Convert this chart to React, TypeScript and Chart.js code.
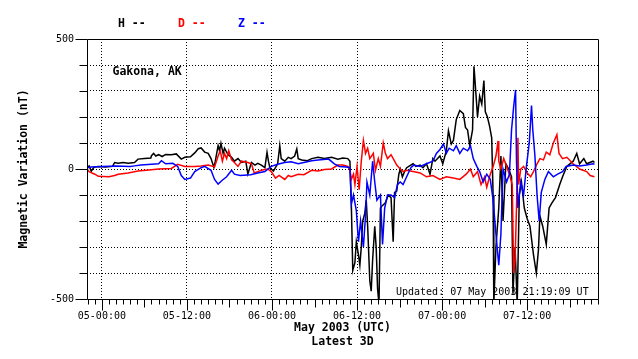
import React, { useEffect, useRef } from 'react';
import { Chart, registerables } from 'chart.js';

Chart.register(...registerables);

// ---------- data ----------
const X_MIN = -2.1; // hours relative to 05 May 00:00 UTC
const X_MAX = 70;
const X_TICK_HOURS = [0, 12, 24, 36, 48, 60];
const X_TICK_LABELS = ['05-00:00', '05-12:00', '06-00:00', '06-12:00', '07-00:00', '07-12:00'];
const Y_MIN = -500;
const Y_MAX = 500;
const Y_STEP = 100;
const Y_TICK_LABELED = [500, 0, -500];

const SERIES_NAMES = ['H', 'D', 'Z'];
const SERIES_COLORS = ['#000000', '#ff0000', '#0000ff'];

const H_DATA: [number, number][] = [
  [-2.1, 5], [-1.8, 12], [-1.5, -8], [-1.2, 4], [-1.0, 8], [-0.5, 10], [0.5, 8], [1.5, 10], [1.8, 25],
  [2.3, 22], [3.0, 25], [3.7, 22], [4.6, 25], [5.1, 38], [6.0, 40], [6.9, 42], [7.0, 51], [7.3, 60],
  [7.6, 50], [8.0, 55], [8.5, 48], [9.0, 56], [9.8, 55], [10.5, 58], [11.2, 38], [11.7, 45], [12.5, 47],
  [13.1, 62], [13.6, 78], [14.0, 81], [14.5, 65], [15.0, 60], [15.4, 40], [15.8, 6], [16.0, 30],
  [16.4, 90], [16.6, 70], [16.8, 99], [17.1, 60], [17.3, 80], [17.8, 55], [18.3, 45], [18.7, 30],
  [19.2, 40], [19.7, 25], [20.3, 30], [20.6, -19], [21.1, 25], [21.6, 15], [22.0, 22], [22.5, 15],
  [23.0, 5], [23.3, 64], [23.5, 30], [23.7, 5], [24.2, -8], [24.8, 20], [25.1, 90], [25.3, 40],
  [25.8, 30], [26.3, 45], [26.7, 40], [27.2, 50], [27.5, 77], [27.7, 40], [28.2, 35], [29.0, 32],
  [29.6, 40], [30.5, 45], [31.4, 40], [32.4, 45], [33.3, 38], [34.0, 42], [34.7, 40], [35.0, 30],
  [35.2, -140], [35.4, -390], [35.7, -360], [35.9, -280], [36.2, -330], [36.4, -370], [36.6, -300],
  [36.8, -200], [37.1, -170], [37.3, -120], [37.5, -220], [37.8, -430], [38.0, -470], [38.2, -350],
  [38.5, -220], [38.7, -300], [38.9, -460], [39.1, -520], [39.3, -150], [39.6, -140], [40.0, -130],
  [40.4, -100], [40.8, -110], [41.1, -280], [41.3, -90], [41.6, -85], [41.9, -20], [42.1, 0],
  [42.4, -30], [42.7, -10], [43.0, 5], [43.9, 20], [44.3, 10], [44.9, 15], [45.3, 5], [45.8, 20],
  [46.3, -20], [46.7, 40], [47.0, 30], [47.7, 50], [48.1, 20], [48.6, 70], [48.9, 147], [49.3, 96],
  [49.6, 110], [50.0, 190], [50.5, 225], [51.0, 213], [51.3, 160], [51.6, 150], [51.9, 90],
  [52.3, 150], [52.5, 395], [52.8, 280], [53.0, 200], [53.3, 280], [53.6, 250], [53.9, 340],
  [54.1, 220], [54.4, 200], [54.7, 165], [55.0, 120], [55.2, -100], [55.3, -520], [55.6, -300],
  [56.0, -150], [56.3, 50], [56.6, -200], [57.0, 20], [57.4, 0], [57.8, -30], [58.0, -480],
  [58.3, -300], [58.6, -520], [58.9, -100], [59.2, -50], [59.6, -150], [60.0, -190], [60.4, -220],
  [60.9, -330], [61.3, -400], [61.6, -310], [61.8, -180], [62.2, -220], [62.7, -290], [63.1, -150],
  [63.5, -130], [64.0, -110], [64.6, -60], [65.0, -30], [65.6, 10], [66.5, 30], [67.0, 60], [67.4, 20],
  [68.0, 40], [68.4, 20], [69.3, 30], [69.5, 25],
];

const D_DATA: [number, number][] = [
  [-2.1, 0], [-1.8, -10], [-1.0, -20], [-0.5, -28], [1.0, -30], [1.8, -25], [2.3, -20], [3.7, -15],
  [5.1, -8], [7.0, -3], [8.0, 0], [9.8, 2], [10.7, 18], [11.7, 10], [13.1, 10], [14.0, 12], [15.0, 15],
  [15.9, 8], [16.4, 50], [16.7, 70], [17.0, 30], [17.3, 60], [17.6, 40], [17.9, 70], [18.3, 35],
  [18.7, 25], [19.2, 10], [19.7, 30], [20.6, 25], [21.1, 20], [21.5, -15], [22.0, -10], [22.5, -5],
  [23.4, 0], [23.9, -10], [24.5, -35], [25.0, -25], [25.8, -40], [26.3, -25], [26.7, -30], [27.7, -20],
  [28.5, -22], [29.6, -5], [30.5, -8], [31.4, -2], [32.4, 0], [33.3, 15], [34.0, 15], [34.7, 10],
  [35.0, -5], [35.2, -40], [35.5, -20], [35.7, -60], [36.0, 10], [36.3, -80], [36.6, 30], [36.9, 110],
  [37.2, 60], [37.5, 80], [37.8, 40], [38.3, 60], [38.6, -5], [39.0, 40], [39.3, 10], [39.7, 100],
  [40.0, 60], [40.3, 40], [40.8, 55], [41.3, 30], [41.6, 15], [42.1, 0], [42.5, -10], [43.0, -5],
  [43.9, -10], [44.9, -15], [45.8, -30], [46.7, -25], [47.7, -40], [48.6, -30], [49.6, -35], [50.5, -40],
  [51.4, -20], [52.0, 0], [52.4, -30], [53.0, -10], [53.5, -60], [54.0, -30], [54.3, -70], [54.8, -20],
  [55.2, 10], [55.6, 50], [55.9, 108], [56.0, 30], [56.3, 0], [56.7, 40], [57.1, 10], [57.5, -20],
  [57.9, -60], [58.1, -400], [58.3, -350], [58.5, -150], [58.7, 120], [58.8, -60], [59.1, 0], [59.5, 10],
  [60.0, -15], [60.5, -30], [60.9, -10], [61.4, 20], [61.8, 40], [62.3, 35], [62.7, 65], [63.2, 55],
  [63.7, 100], [64.2, 132], [64.5, 60], [65.0, 40], [65.6, 45], [66.5, 20], [67.4, 0], [68.4, -10],
  [68.9, -25], [69.5, -30],
];

const Z_DATA: [number, number][] = [
  [-2.1, 5], [-1.5, 8], [0, 10], [2, 12], [4, 10], [4.6, 12], [5.5, 15], [7.0, 18], [8.0, 20], [8.4, 32],
  [9.0, 20], [10.0, 22], [10.7, 10], [11.2, -25], [11.7, -40], [12.5, -35], [13.1, -10], [14.0, 5],
  [14.5, 10], [15.4, -5], [15.9, -40], [16.4, -58], [16.9, -45], [17.6, -30], [18.3, -5], [18.7, -20],
  [19.5, -25], [21.0, -22], [22.0, -15], [23.0, -10], [23.9, 10], [24.8, 18], [25.8, 25], [26.7, 28],
  [27.7, 20], [28.5, 25], [29.6, 32], [30.5, 35], [32.0, 38], [32.8, 20], [33.5, 10], [34.5, 8],
  [35.0, 5], [35.2, -135], [35.5, -100], [35.9, -160], [36.2, -280], [36.5, -200], [36.9, -300],
  [37.2, -180], [37.4, -50], [37.8, -100], [38.2, 30], [38.5, -50], [38.8, -120], [39.3, -100],
  [39.6, -290], [39.9, -150], [40.3, -100], [40.8, -100], [41.3, -110], [41.7, -60], [42.1, -50],
  [42.5, -60], [43.0, -30], [43.6, 5], [44.0, 15], [44.9, 10], [45.8, 20], [46.7, 30], [47.2, 60],
  [47.7, 75], [48.2, 96], [48.6, 60], [49.0, 80], [49.6, 70], [50.0, 90], [50.5, 60], [51.0, 80],
  [51.6, 70], [52.0, 90], [52.4, 40], [52.9, 10], [53.3, -10], [53.8, -50], [54.3, -20], [54.8, -40],
  [55.2, -120], [55.6, -250], [56.0, -370], [56.3, -250], [56.6, 0], [57.1, -50], [57.5, -20],
  [57.8, 150], [58.1, 240], [58.37, 304], [58.5, 30], [58.7, -150], [59.1, -50], [59.5, -100],
  [59.9, 10], [60.3, 100], [60.62, 244], [60.8, 150], [61.1, 50], [61.4, -100], [61.7, -200], [62.0, -90],
  [62.5, -40], [63.0, -10], [63.7, -30], [64.3, -20], [65.0, -10], [65.5, 10], [66.5, 15], [67.4, 12],
  [68.4, 15], [69.3, 20], [69.5, 18],
];

const STATION = 'Gakona, AK';
const UPDATED = 'Updated: 07 May 2003 21:19:09 UT';
const X_TITLE = ['May 2003 (UTC)', 'Latest 3D'];
const Y_TITLE = 'Magnetic Variation (nT)';

const MONO = '"DejaVu Sans Mono", "Liberation Mono", monospace';

const decorPlugin = {
  id: 'decor',
  beforeDatasetsDraw(chart: any) {
    const ctx = chart.ctx;
    const { left, top, bottom } = chart.chartArea;
    ctx.save();
    ctx.fillStyle = '#000';
    ctx.textBaseline = 'middle';
    ctx.textAlign = 'left';
    ctx.font = `bold 11.5px ${MONO}`;
    ctx.fillText(STATION, left + 25.5, top + 33);
    ctx.font = `10px ${MONO}`;
    ctx.fillText(UPDATED, left + 309, bottom - 7);
    ctx.restore();
  },
  afterDraw(chart: any) {
    const ctx = chart.ctx;
    const { left, top, right, bottom } = chart.chartArea;
    const xs = chart.scales.x;
    const ys = chart.scales.y;
    ctx.save();
    ctx.strokeStyle = '#000';
    ctx.lineWidth = 1;
    const L = Math.round(left) + 0.5;
    const T = Math.round(top) + 0.5;
    const R = Math.round(right) + 0.5;
    const B = Math.round(bottom) + 0.5;
    ctx.beginPath();
    ctx.moveTo(L, T); ctx.lineTo(R, T); ctx.lineTo(R, B); ctx.lineTo(L, B); ctx.closePath();
    for (let h = Math.ceil(X_MIN); h <= X_MAX; h++) {
      const px = Math.round(xs.getPixelForValue(h)) + 0.5;
      const len = h % 12 === 0 ? 11 : h % 6 === 0 ? 8 : 5;
      ctx.moveTo(px, B);
      ctx.lineTo(px, B + len);
    }
    for (let v = Y_MIN; v <= Y_MAX; v += Y_STEP) {
      const py = Math.round(ys.getPixelForValue(v)) + 0.5;
      const len = Y_TICK_LABELED.includes(v) ? 12 : 8;
      ctx.moveTo(L - len, py);
      ctx.lineTo(L, py);
    }
    ctx.stroke();
    ctx.textBaseline = 'middle';
    ctx.textAlign = 'left';
    ctx.font = `bold 11.5px ${MONO}`;
    SERIES_NAMES.forEach((n, i) => {
      ctx.fillStyle = SERIES_COLORS[i];
      ctx.fillText(`${n} --`, left + 31 + i * 60, 24.5);
    });
    ctx.restore();
  },
};

export default function App() {
  const ref = useRef<HTMLCanvasElement | null>(null);
  useEffect(() => {
    const canvas = ref.current;
    if (!canvas) return;
    const seriesData = [H_DATA, D_DATA, Z_DATA];
    const order = [2, 1, 0];
    const chart = new Chart(canvas, {
      type: 'line',
      data: {
        datasets: order.map((i) => ({
          label: SERIES_NAMES[i],
          data: seriesData[i].map(([x, y]) => ({ x, y })),
          borderColor: SERIES_COLORS[i],
          backgroundColor: SERIES_COLORS[i],
          borderWidth: 1.5,
          pointRadius: 0,
          tension: 0,
          fill: false,
        })),
      },
      options: {
        responsive: false,
        animation: false,
        events: [],
        layout: { padding: { left: 0, right: 40, top: 39, bottom: 0 } },
        plugins: {
          legend: { display: false },
          tooltip: { enabled: false },
          title: { display: false },
        },
        scales: {
          x: {
            type: 'linear',
            min: X_MIN,
            max: X_MAX,
            afterBuildTicks: (s: any) => {
              const t = [];
              for (let h = Math.ceil(X_MIN); h <= X_MAX; h++) t.push({ value: h });
              s.ticks = t;
            },
            afterFit: (s: any) => { s.height = 60; },
            ticks: {
              autoSkip: false,
              maxRotation: 0,
              minRotation: 0,
              padding: 11,
              color: '#000',
              font: { family: MONO, size: 10 },
              callback: (v: any) => {
                const idx = X_TICK_HOURS.indexOf(Number(v));
                return idx >= 0 ? X_TICK_LABELS[idx] : '';
              },
            },
            grid: {
              drawTicks: false,
              lineWidth: 1,
              color: (c: any) => (c.tick && X_TICK_HOURS.includes(c.tick.value) ? '#000' : 'rgba(0,0,0,0)'),
            },
            border: { display: false, dash: [1, 2] },
            title: {
              display: true,
              text: X_TITLE,
              color: '#000',
              font: { family: MONO, size: 11.5, weight: 'bold', lineHeight: 1.2 },
              padding: { top: 0, bottom: 10 },
            },
          },
          y: {
            type: 'linear',
            min: Y_MIN,
            max: Y_MAX,
            afterFit: (s: any) => { s.width = 87; },
            ticks: {
              stepSize: Y_STEP,
              padding: 13,
              color: '#000',
              font: { family: MONO, size: 10 },
              callback: (v: any) => (Y_TICK_LABELED.includes(Number(v)) ? String(v) : ''),
            },
            grid: {
              drawTicks: false,
              lineWidth: 1,
              color: (c: any) => (c.tick && Math.abs(c.tick.value) !== 500 ? '#000' : 'rgba(0,0,0,0)'),
            },
            border: { display: false, dash: [1, 2] },
            title: {
              display: true,
              text: Y_TITLE,
              color: '#000',
              font: { family: MONO, size: 11.5, weight: 'bold', lineHeight: 1.2 },
              padding: { top: 17, bottom: 0 },
            },
          },
        },
      },
      plugins: [decorPlugin],
    } as any);
    return () => chart.destroy();
  }, []);

  return (
    <div style={{ position: 'fixed', left: 0, top: 0, width: 638, height: 359, background: '#fff' }}>
      <canvas ref={ref} width={638} height={359} style={{ display: 'block', width: 638, height: 359 }} />
    </div>
  );
}
